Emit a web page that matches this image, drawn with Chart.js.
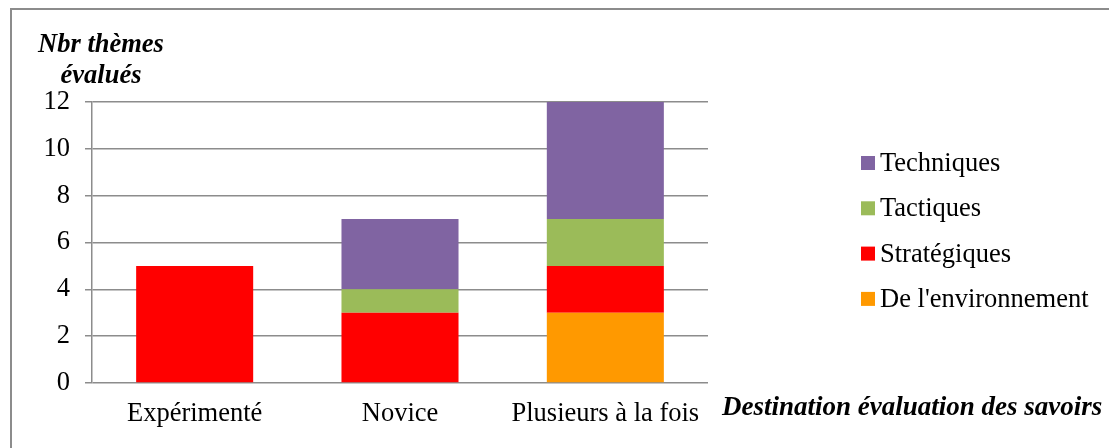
<!DOCTYPE html>
<html>
<head>
<meta charset="utf-8">
<script src="https://cdn.jsdelivr.net/npm/chart.js@4"></script>
<style>
    html, body { margin: 0; padding: 0; background: #fff; }
    #wrap { position: relative; width: 1109px; height: 448px; }
    #frame { position: absolute; left: 10px; top: 8px; right: 0; bottom: -4px;
             border-left: 2px solid #8c8c8c; border-top: 2px solid #8c8c8c; }
    canvas { position: absolute; left: 0; top: 0; }
</style>
</head>
<body>
<div id="wrap">
    <div id="frame"></div>
    <canvas id="chart" width="1109" height="448"></canvas>
</div>
<script>
// Data
const categories = ['Expérimenté', 'Novice', 'Plusieurs à la fois'];
const environnement = [0, 0, 3];
const strategiques = [5, 3, 2];
const tactiques = [0, 1, 2];
const techniques = [0, 3, 5];
const yTicks = [0, 2, 4, 6, 8, 10, 12];

const serif = '"Liberation Serif", "DejaVu Serif", serif';

// Axis titles and legend sit where the original had them
const extras = {
    id: 'extras',
    afterDraw(chart) {
        const ctx = chart.ctx;
        ctx.save();
        ctx.fillStyle = '#000';
        ctx.textBaseline = 'middle';
        ctx.font = 'italic bold 26.5px ' + serif;
        ctx.textAlign = 'center';
        ctx.fillText('Nbr thèmes', 101, 45);
        ctx.fillText('évalués', 101, 76);
        ctx.textAlign = 'left';
        ctx.font = 'italic bold 27px ' + serif;
        ctx.fillText('Destination évaluation des savoirs', 722, 408);

        // legend, top to bottom = last dataset first
        ctx.font = '26.5px ' + serif;
        const sets = chart.data.datasets.slice().reverse();
        sets.forEach((ds, i) => {
            const y = 163 + i * 45.3;
            ctx.fillStyle = ds.backgroundColor;
            ctx.fillRect(861, y - 7, 14, 14);
            ctx.fillStyle = '#000';
            ctx.fillText(ds.label, 880, y + 1);
        });
        ctx.restore();
    }
};

new Chart(document.getElementById('chart'), {
    type: 'bar',
    data: {
        labels: categories,
        datasets: [
            { label: "De l'environnement", data: environnement, backgroundColor: '#FF9900' },
            { label: 'Stratégiques', data: strategiques, backgroundColor: '#FF0000' },
            { label: 'Tactiques', data: tactiques, backgroundColor: '#9BBB59' },
            { label: 'Techniques', data: techniques, backgroundColor: '#8064A2' }
        ]
    },
    options: {
        responsive: false,
        animation: false,
        layout: { padding: { left: 0, top: 102, right: 401, bottom: 0 } },
        datasets: { bar: { barPercentage: 0.57, categoryPercentage: 1 } },
        plugins: { legend: { display: false }, tooltip: { enabled: false } },
        scales: {
            x: {
                stacked: true,
                grid: { display: false },
                border: { display: false },
                ticks: { color: '#000', font: { family: serif, size: 26.5 }, padding: 7 },
                afterFit: (s) => { s.height = 65; }
            },
            y: {
                stacked: true,
                min: 0,
                max: 12,
                afterBuildTicks: (s) => { s.ticks = yTicks.map(v => ({ value: v })); },
                grid: { color: '#8c8c8c', lineWidth: 1.5, tickLength: 7 },
                border: { color: '#8c8c8c', width: 1.5 },
                ticks: { color: '#000', font: { family: serif, size: 26.5 }, padding: 15 },
                afterFit: (s) => { s.width = 92; }
            }
        }
    },
    plugins: [extras]
});
</script>
</body>
</html>
